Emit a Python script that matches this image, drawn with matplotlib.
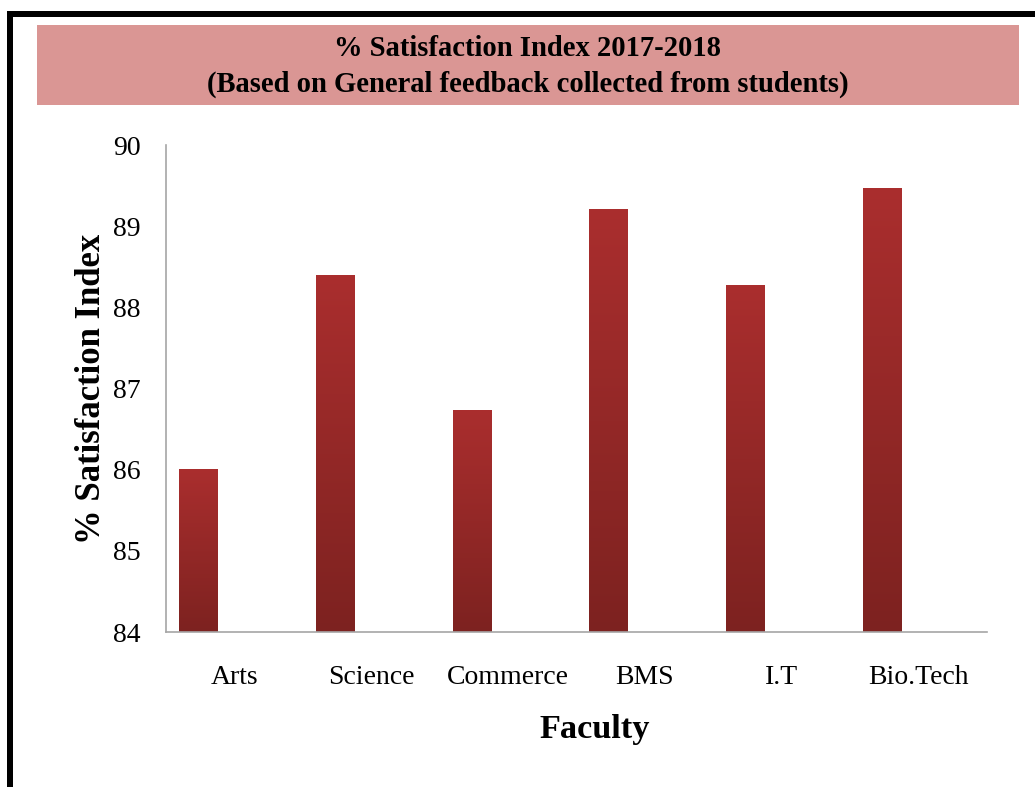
import numpy as np
import matplotlib.pyplot as plt
from matplotlib.patches import Rectangle
from matplotlib.colors import LinearSegmentedColormap

# --- data ---
faculties = ["Arts", "Science", "Commerce", "BMS", "I.T", "Bio.Tech"]
satisfaction = [86.0, 88.39, 86.73, 89.21, 88.27, 89.46]

plt.rcParams['font.family'] = ['Liberation Serif', 'DejaVu Serif']

fig = plt.figure(figsize=(10.35, 7.87), dpi=100)

# frame lines (left and top) and the title band
fig.add_artist(Rectangle((7 / 1035, 0), 6 / 1035, 1 - 11 / 787,
                         transform=fig.transFigure, color='black', lw=0))
fig.add_artist(Rectangle((7 / 1035, 1 - 17 / 787), 1, 6 / 787,
                         transform=fig.transFigure, color='black', lw=0))
fig.add_artist(Rectangle((37 / 1035, 1 - 105 / 787), 982 / 1035, 80 / 787,
                         transform=fig.transFigure, color='#DA9694', lw=0))
fig.text(0.5097, 1 - 48 / 787, "% Satisfaction Index 2017-2018",
         ha='center', va='center', fontsize=20.6, fontweight='bold')
fig.text(0.5097, 1 - 84 / 787, "(Based on General feedback collected from students)",
         ha='center', va='center', fontsize=20.6, fontweight='bold')

ax = fig.add_axes([166 / 1035, 1 - 632 / 787, 821 / 1035, 487 / 787])

x = np.arange(len(faculties))
width = 0.278
offset = -0.266
bars = ax.bar(x + offset, satisfaction, width, color='none', edgecolor='none', zorder=2)

# vertical gradient inside each bar
cmap = LinearSegmentedColormap.from_list('redgrad', ['#7D2220', '#AA2E2E'])
grad = np.linspace(0, 1, 256).reshape(-1, 1)
for b in bars:
    x0, y0 = b.get_x(), 84
    ax.imshow(grad, cmap=cmap, origin='lower', aspect='auto',
              extent=(x0, x0 + b.get_width(), y0, b.get_height()), zorder=2)

ax.set_xlim(-0.5, len(faculties) - 0.5)
ax.set_ylim(84, 90)
ax.set_yticks(range(84, 91))
ax.set_xticks(x)
ax.set_xticklabels(faculties)
ax.tick_params(axis='both', length=0, labelsize=20)
ax.tick_params(axis='x', pad=23.5)
ax.tick_params(axis='y', pad=18)

for s in ['top', 'right']:
    ax.spines[s].set_visible(False)
for s in ['left', 'bottom']:
    ax.spines[s].set_color('#A6A6A6')
    ax.spines[s].set_linewidth(1.2)

ax.set_xlabel("Faculty", fontsize=24.7, fontweight='bold', labelpad=17.5)
ax.xaxis.label.set_x(0.5225)
ax.set_ylabel("% Satisfaction Index", fontsize=25, fontweight='bold', labelpad=4)

fig.savefig("out.png", dpi=100)
